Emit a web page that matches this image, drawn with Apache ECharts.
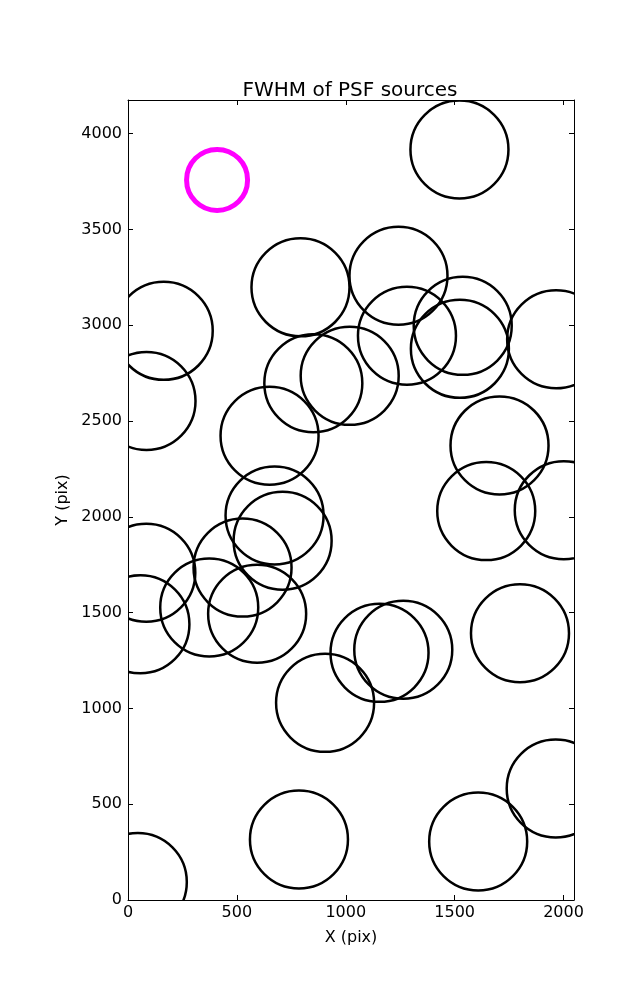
<!DOCTYPE html>
<html>
<head>
<meta charset="utf-8">
<script src="https://cdn.jsdelivr.net/npm/echarts@6/dist/echarts.min.js"></script>
<style>
html,body{margin:0;padding:0;background:#fff;}
#chart{width:637px;height:1000px;}
</style>
</head>
<body>
<div id="chart"></div>
<script>
// Source positions (pixel coordinates on detector)
const srcX = [1522, 1242, 792, 164, 1537, 1281, 1524, 1966, 85, 1018, 851, 650, 1706, 1645, 2001, 673, 710, 84, 526, 373, 593, 57, 1800, 1155, 1264, 905, 1964, 785, 1608, 45];
const srcY = [3918, 3259, 3198, 2971, 2997, 2945, 2877, 2927, 2605, 2736, 2697, 2423, 2373, 2030, 2035, 2007, 1875, 1708, 1735, 1527, 1494, 1439, 1392, 1290, 1306, 1029, 582, 316, 305, 94];
// Reference marker
const refX = [409];
const refY = [3759];

const xTicks = [0, 500, 1000, 1500, 2000];
const yTicks = [0, 500, 1000, 1500, 2000, 2500, 3000, 3500, 4000];
const xMax = 2048, yMax = 4176;

const font = 'DejaVu Sans';
const tickStyle = {show: true, inside: true, length: 5, lineStyle: {color: '#000', width: 1}};
const lineStyle = {show: true, onZero: false, lineStyle: {color: '#000', width: 1}};

function ringSeries(xs, ys, radius, color, width) {
  return {
    type: 'custom', clip: true,
    data: xs.map((x, i) => [x, ys[i]]),
    encode: {x: 0, y: 1},
    renderItem: function (params, api) {
      const p = api.coord([api.value(0), api.value(1)]);
      return {
        type: 'circle',
        shape: {cx: p[0], cy: p[1], r: radius},
        style: {fill: null, stroke: color, lineWidth: width}
      };
    },
    emphasis: {disabled: true}, silent: true
  };
}

const chart = echarts.init(document.getElementById('chart'), null, {renderer: 'canvas'});
chart.setOption({
  animation: false,
  backgroundColor: '#fff',
  title: {
    text: 'FWHM of PSF sources',
    left: 351, top: 76, textAlign: 'center',
    textStyle: {fontFamily: font, fontSize: 20, fontWeight: 'normal', color: '#000'}
  },
  grid: {left: 128, right: 63, top: 100, bottom: 100, containLabel: false},
  xAxis: [
    {type: 'value', min: 0, max: xMax, interval: 500, position: 'bottom',
     name: 'X (pix)', nameLocation: 'middle', nameGap: 30,
     nameTextStyle: {fontFamily: font, fontSize: 16, color: '#000'},
     axisLine: lineStyle, axisTick: tickStyle, splitLine: {show: false},
     axisLabel: {fontFamily: font, fontSize: 16, color: '#000', margin: 5, showMaxLabel: false,
       formatter: v => xTicks.includes(v) ? String(v) : ''}},
    {type: 'value', min: 0, max: xMax, interval: 500, position: 'top',
     axisLine: lineStyle, axisTick: tickStyle, splitLine: {show: false}, axisLabel: {show: false}}
  ],
  yAxis: [
    {type: 'value', min: 0, max: yMax, interval: 500, position: 'left',
     name: 'Y (pix)', nameLocation: 'middle', nameGap: 57,
     nameTextStyle: {fontFamily: font, fontSize: 16, color: '#000'},
     axisLine: lineStyle, axisTick: tickStyle, splitLine: {show: false},
     axisLabel: {fontFamily: font, fontSize: 16, color: '#000', margin: 6, showMaxLabel: false,
       formatter: v => yTicks.includes(v) ? String(v) : ''}},
    {type: 'value', min: 0, max: yMax, interval: 500, position: 'right',
     axisLine: lineStyle, axisTick: tickStyle, splitLine: {show: false}, axisLabel: {show: false}}
  ],
  series: [
    ringSeries(srcX, srcY, 49, '#000', 2.5),
    ringSeries(refX, refY, 30.5, '#ff00ff', 5)
  ]
});
chart.setOption({title: {left: 345}});
</script>
</body>
</html>
